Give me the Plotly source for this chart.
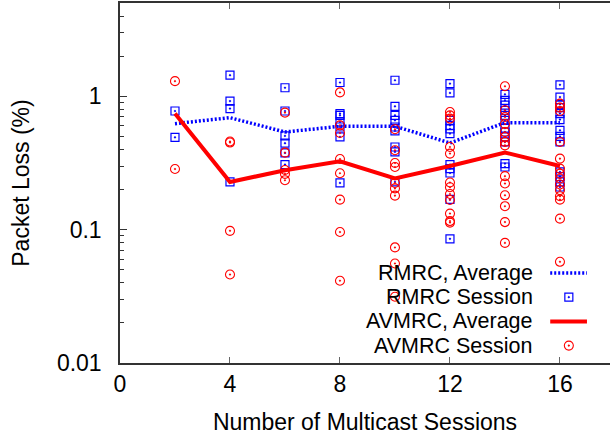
import plotly.graph_objects as go

# ---------------- data ----------------
sessions = [2, 4, 6, 8, 10, 12, 14, 16]

rmrc_avg = [0.624, 0.692, 0.540, 0.596, 0.596, 0.447, 0.635, 0.635]
avmrc_avg = [0.742, 0.228, 0.279, 0.326, 0.242, 0.300, 0.379, 0.300]

rmrc_sessions = {
    2: [0.776, 0.493],
    4: [1.44, 0.922, 0.809, 0.228],
    6: [1.16, 0.776, 0.505, 0.445, 0.376, 0.308],
    8: [1.27, 0.742, 0.72, 0.642, 0.589, 0.496, 0.224],
    10: [1.32, 0.841, 0.72, 0.661, 0.589, 0.55, 0.417, 0.383, 0.228],
    12: [1.245, 1.06, 0.661, 0.606, 0.57, 0.525, 0.308, 0.287, 0.266, 0.169, 0.0853],
    14: [1.035, 0.933, 0.86, 0.786, 0.72, 0.661, 0.578, 0.54, 0.496, 0.455, 0.313, 0.295],
    16: [1.22, 0.988, 0.87, 0.823, 0.742, 0.669, 0.556, 0.5, 0.455, 0.271, 0.25, 0.228, 0.209],
}

avmrc_sessions = {
    2: [1.30, 0.285],
    4: [0.458, 0.450, 0.098, 0.0461],
    6: [0.755, 0.378, 0.28, 0.262, 0.235],
    8: [1.07, 0.606, 0.531, 0.339, 0.265, 0.168, 0.096, 0.0414],
    10: [0.566, 0.394, 0.316, 0.295, 0.224, 0.204, 0.180, 0.0736, 0.0558, 0.0314],
    12: [0.763, 0.72, 0.681, 0.417, 0.372, 0.226, 0.208, 0.185, 0.167, 0.132, 0.116, 0.113],
    14: [1.19, 0.786, 0.70, 0.62, 0.54, 0.496, 0.455, 0.429, 0.252, 0.222, 0.181, 0.150, 0.114, 0.0796],
    16: [0.881, 0.823, 0.776, 0.455, 0.341, 0.287, 0.263, 0.242, 0.218, 0.198, 0.178, 0.168, 0.121, 0.0574],
}

legend_labels = ["RMRC, Average", "RMRC Session", "AVMRC, Average", "AVMRC Session"]

x_ticks = [0, 4, 8, 12, 16]
y_ticks = [0.01, 0.1, 1]
y_tick_text = ["0.01", "0.1", "1"]

# ---------------- styling ----------------
BLUE = "#0000ff"
RED = "#ff0000"
FONT = "Liberation Sans"
FS = 23
LEG_FS = 21.5

def flatten(d):
    xs, ys = [], []
    for k, vals in d.items():
        xs += [k] * len(vals)
        ys += vals
    return xs, ys

rx, ry = flatten(rmrc_sessions)
ax_, ay_ = flatten(avmrc_sessions)

fig = go.Figure()

fig.add_trace(go.Scatter(x=sessions, y=rmrc_avg, mode="lines",
                         line=dict(color=BLUE, width=3.5, dash="2px,2px"),
                         showlegend=False))
fig.add_trace(go.Scatter(x=rx, y=ry, mode="markers",
                         marker=dict(symbol="square-open-dot", size=8, color=BLUE,
                                     line=dict(width=1.2, color=BLUE)),
                         showlegend=False))
fig.add_trace(go.Scatter(x=sessions, y=avmrc_avg, mode="lines",
                         line=dict(color=RED, width=4),
                         showlegend=False))
fig.add_trace(go.Scatter(x=ax_, y=ay_, mode="markers",
                         marker=dict(symbol="circle-open-dot", size=9, color=RED,
                                     line=dict(width=1.1, color=RED)),
                         showlegend=False))

# ---------------- manual legend (text left of key, like gnuplot) ----------------
leg_rows = [0.2500, 0.1828, 0.1156, 0.0483]
leg_text_x = 0.847
leg_line = [0.878, 0.953]
leg_mark_x = 0.916

for label, yy in zip(legend_labels, leg_rows):
    fig.add_annotation(x=leg_text_x, y=yy, xref="paper", yref="paper",
                       text=label, showarrow=False, xanchor="right", yanchor="middle",
                       font=dict(family=FONT, size=LEG_FS, color="black"))

fig.add_trace(go.Scatter(x=leg_line, y=[leg_rows[0]] * 2, xaxis="x2", yaxis="y2",
                         mode="lines", line=dict(color=BLUE, width=3.5, dash="2px,2px"),
                         showlegend=False, hoverinfo="skip"))
fig.add_trace(go.Scatter(x=[leg_mark_x], y=[leg_rows[1]], xaxis="x2", yaxis="y2",
                         mode="markers",
                         marker=dict(symbol="square-open-dot", size=8, color=BLUE,
                                     line=dict(width=1.2, color=BLUE)),
                         showlegend=False, hoverinfo="skip"))
fig.add_trace(go.Scatter(x=leg_line, y=[leg_rows[2]] * 2, xaxis="x2", yaxis="y2",
                         mode="lines", line=dict(color=RED, width=4),
                         showlegend=False, hoverinfo="skip"))
fig.add_trace(go.Scatter(x=[leg_mark_x], y=[leg_rows[3]], xaxis="x2", yaxis="y2",
                         mode="markers",
                         marker=dict(symbol="circle-open-dot", size=9, color=RED,
                                     line=dict(width=1.1, color=RED)),
                         showlegend=False, hoverinfo="skip"))

minor_vals = [k * 10.0 ** e for e in (-2, -1, 0) for k in range(2, 10)]

fig.update_layout(
    width=610, height=436,
    margin=dict(l=120, r=0, t=3, b=73),
    paper_bgcolor="white", plot_bgcolor="white",
    font=dict(family=FONT, size=FS, color="black"),
    xaxis=dict(
        range=[0, 17.82], tickmode="array", tickvals=x_ticks,
        ticks="inside", ticklen=6, tickcolor="#666", tickwidth=1.2,
        showline=True, linecolor="#333", linewidth=1.5, mirror="ticks",
        showgrid=False, zeroline=False,
        tickfont=dict(family=FONT, size=FS, color="black"),
        title=dict(text="Number of Multicast Sessions",
                   font=dict(family=FONT, size=FS, color="black"), standoff=18),
    ),
    yaxis=dict(
        type="log", range=[-2, 0.7], tickmode="array", tickvals=y_ticks,
        ticktext=y_tick_text, ticks="inside", ticklen=7, tickcolor="#333",
        tickwidth=1.2, showline=True, linecolor="#333", linewidth=1.5,
        showgrid=False, zeroline=False, ticklabelstandoff=12,
        minor=dict(tickmode="array", tickvals=minor_vals, ticks="inside",
                   ticklen=4, tickcolor="#333", tickwidth=1, showgrid=False),
        tickfont=dict(family=FONT, size=FS, color="black"),
        title=dict(text="Packet Loss (%)",
                   font=dict(family=FONT, size=FS, color="black"), standoff=21),
    ),
    xaxis2=dict(overlaying="x", range=[0, 1], visible=False, fixedrange=True),
    yaxis2=dict(overlaying="y", range=[0, 1], visible=False, fixedrange=True),
)

fig.write_html("out.html")
